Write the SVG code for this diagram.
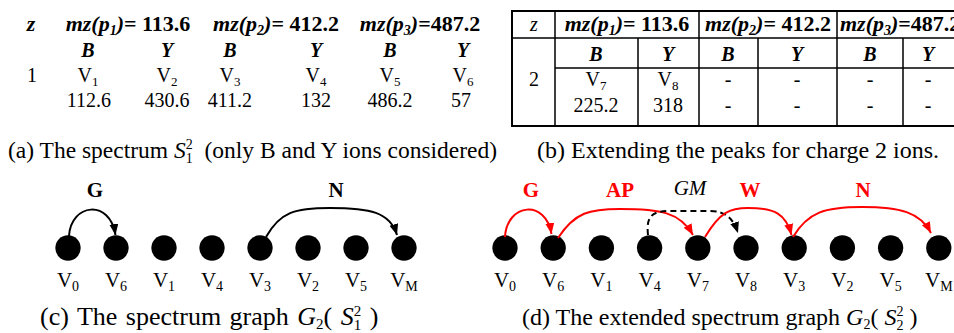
<svg xmlns="http://www.w3.org/2000/svg" width="954" height="333" viewBox="0 0 954 333">
<style>
text { font-family: "Liberation Serif", "Times New Roman", serif; fill: #000; }
.hd { font-size: 22px; font-weight: bold; font-style: italic; text-anchor: middle; }
.hs { font-size: 22px; font-weight: bold; font-style: italic; text-anchor: start; }
.by { font-size: 20px; font-weight: bold; font-style: italic; text-anchor: middle; }
.up { font-style: normal; }
.c { font-size: 20px; text-anchor: middle; }
.cap { font-size: 24px; }
.lbl { font-size: 21px; text-anchor: middle; }
.el { font-size: 21px; font-weight: bold; text-anchor: middle; }
.red { fill: #f00; }
.node { fill: #000; }
.tb { fill: none; stroke: #000; stroke-width: 2; }
.tl { stroke: #000; stroke-width: 1.5; fill: none; }
.e { fill: none; stroke: #000; stroke-width: 2; }
.er { fill: none; stroke: #f00; stroke-width: 2; }
.dash { stroke-dasharray: 6 4; }
</style>
<defs>
<marker id="ab" markerUnits="userSpaceOnUse" markerWidth="12" markerHeight="10" refX="11" refY="4.5" orient="auto"><path d="M0,0 L11,4.5 L0,9 z" fill="#000"/></marker>
<marker id="ar" markerUnits="userSpaceOnUse" markerWidth="12" markerHeight="10" refX="11" refY="4.5" orient="auto"><path d="M0,0 L11,4.5 L0,9 z" fill="#f00"/></marker>
</defs>

<g id="table-a">
<text class="hd" x="31" y="31">z</text>
<text class="hd" x="128" y="31">mz(p<tspan font-size="14" dy="4">1</tspan><tspan dy="-4">)</tspan><tspan class="up">= 113.6</tspan></text>
<text class="hd" x="276" y="31">mz(p<tspan font-size="14" dy="4">2</tspan><tspan dy="-4">)</tspan><tspan class="up">= 412.2</tspan></text>
<text class="hd" x="420" y="31">mz(p<tspan font-size="14" dy="4">3</tspan><tspan dy="-4">)</tspan><tspan class="up">=487.2</tspan></text>
<text class="by" x="88" y="57">B</text><text class="by" x="167" y="57">Y</text>
<text class="by" x="230" y="57">B</text><text class="by" x="316" y="57">Y</text>
<text class="by" x="390" y="57">B</text><text class="by" x="463" y="57">Y</text>
<text class="c" x="32" y="82">1</text>
<text class="c" x="88" y="82">V<tspan font-size="13" dy="4">1</tspan></text>
<text class="c" x="167" y="82">V<tspan font-size="13" dy="4">2</tspan></text>
<text class="c" x="230" y="82">V<tspan font-size="13" dy="4">3</tspan></text>
<text class="c" x="316" y="82">V<tspan font-size="13" dy="4">4</tspan></text>
<text class="c" x="390" y="82">V<tspan font-size="13" dy="4">5</tspan></text>
<text class="c" x="463" y="82">V<tspan font-size="13" dy="4">6</tspan></text>
<text class="c" x="89" y="107">112.6</text><text class="c" x="167" y="107">430.6</text>
<text class="c" x="230" y="107">411.2</text><text class="c" x="316" y="107">132</text>
<text class="c" x="390" y="107">486.2</text><text class="c" x="461" y="107">57</text>
</g>

<g id="table-b">
<rect class="tb" x="512" y="11" width="450" height="115"/>
<path class="tl" d="M512,38 H962 M555,68 H962 M555,11 V126 M638,38 V126 M699,11 V126 M758,38 V126 M837,11 V126 M903,38 V126"/>
<text class="c" x="534" y="31" font-style="italic">z</text>
<text class="hd" x="627" y="31">mz(p<tspan font-size="14" dy="4">1</tspan><tspan dy="-4">)</tspan><tspan class="up">= 113.6</tspan></text>
<text class="hd" x="768" y="31">mz(p<tspan font-size="14" dy="4">2</tspan><tspan dy="-4">)</tspan><tspan class="up">= 412.2</tspan></text>
<text class="hs" x="840" y="31">mz(p<tspan font-size="14" dy="4">3</tspan><tspan dy="-4">)</tspan><tspan class="up">=487.2</tspan></text>
<text class="by" x="596" y="61">B</text><text class="by" x="668" y="61">Y</text>
<text class="by" x="728" y="61">B</text><text class="by" x="797" y="61">Y</text>
<text class="by" x="870" y="61">B</text><text class="by" x="928" y="61">Y</text>
<text class="c" x="534" y="86">2</text>
<text class="c" x="596" y="86">V<tspan font-size="13" dy="4">7</tspan></text>
<text class="c" x="668" y="86">V<tspan font-size="13" dy="4">8</tspan></text>
<text class="c" x="596" y="112">225.2</text><text class="c" x="668" y="112">318</text>
<text class="c" x="728" y="86">-</text><text class="c" x="797" y="86">-</text><text class="c" x="870" y="86">-</text><text class="c" x="928" y="86">-</text>
<text class="c" x="728" y="112">-</text><text class="c" x="797" y="112">-</text><text class="c" x="870" y="112">-</text><text class="c" x="928" y="112">-</text>
</g>

<g id="captions">
<text class="cap" x="8" y="158" style="font-size:23.5px">(a) The spectrum <tspan font-style="italic">S</tspan><tspan font-size="14" dy="-9">2</tspan><tspan font-size="14" dx="-7" dy="14">1</tspan><tspan dy="-5">&#160; (only B and Y ions considered)</tspan></text>
<text class="cap" x="537" y="158">(b) Extending the peaks for charge 2 ions.</text>
<text class="cap" x="40" y="325" style="font-size:26px" word-spacing="2">(c) The spectrum graph <tspan font-style="italic">G</tspan><tspan font-size="15" dy="4">2</tspan><tspan dy="-4">(&#160;</tspan><tspan font-style="italic">S</tspan><tspan font-size="15" dy="-9">2</tspan><tspan font-size="15" dx="-7.5" dy="14">1</tspan><tspan dy="-5">&#160;)</tspan></text>
<text class="cap" x="522" y="325">(d) The extended spectrum graph <tspan font-style="italic">G</tspan><tspan font-size="14" dy="4">2</tspan><tspan dy="-4">(&#160;</tspan><tspan font-style="italic">S</tspan><tspan font-size="14" dy="-9">2</tspan><tspan font-size="14" dx="-7" dy="14">2</tspan><tspan dy="-5">&#160;)</tspan></text>
</g>

<g id="graph-c">
<g id="c-v0"><circle class="node" cx="68" cy="248" r="12.7"/><text class="lbl" x="68" y="287">V<tspan font-size="14" dy="4">0</tspan></text></g>
<g id="c-v6"><circle class="node" cx="116" cy="248" r="12.7"/><text class="lbl" x="116" y="287">V<tspan font-size="14" dy="4">6</tspan></text></g>
<g id="c-v1"><circle class="node" cx="164" cy="248" r="12.7"/><text class="lbl" x="164" y="287">V<tspan font-size="14" dy="4">1</tspan></text></g>
<g id="c-v4"><circle class="node" cx="212" cy="248" r="12.7"/><text class="lbl" x="212" y="287">V<tspan font-size="14" dy="4">4</tspan></text></g>
<g id="c-v3"><circle class="node" cx="260" cy="248" r="12.7"/><text class="lbl" x="260" y="287">V<tspan font-size="14" dy="4">3</tspan></text></g>
<g id="c-v2"><circle class="node" cx="308" cy="248" r="12.7"/><text class="lbl" x="308" y="287">V<tspan font-size="14" dy="4">2</tspan></text></g>
<g id="c-v5"><circle class="node" cx="356" cy="248" r="12.7"/><text class="lbl" x="356" y="287">V<tspan font-size="14" dy="4">5</tspan></text></g>
<g id="c-vm"><circle class="node" cx="404" cy="248" r="12.7"/><text class="lbl" x="404" y="287">V<tspan font-size="14" dy="4">M</tspan></text></g>
</g>

<g id="graph-d">
<g id="d-v0"><circle class="node" cx="505" cy="248" r="12.7"/><text class="lbl" x="505" y="287">V<tspan font-size="14" dy="4">0</tspan></text></g>
<g id="d-v6"><circle class="node" cx="553.2" cy="248" r="12.7"/><text class="lbl" x="553.2" y="287">V<tspan font-size="14" dy="4">6</tspan></text></g>
<g id="d-v1"><circle class="node" cx="601.4" cy="248" r="12.7"/><text class="lbl" x="601.4" y="287">V<tspan font-size="14" dy="4">1</tspan></text></g>
<g id="d-v4"><circle class="node" cx="649.6" cy="248" r="12.7"/><text class="lbl" x="649.6" y="287">V<tspan font-size="14" dy="4">4</tspan></text></g>
<g id="d-v7"><circle class="node" cx="697.8" cy="248" r="12.7"/><text class="lbl" x="697.8" y="287">V<tspan font-size="14" dy="4">7</tspan></text></g>
<g id="d-v8"><circle class="node" cx="746" cy="248" r="12.7"/><text class="lbl" x="746" y="287">V<tspan font-size="14" dy="4">8</tspan></text></g>
<g id="d-v3"><circle class="node" cx="794.2" cy="248" r="12.7"/><text class="lbl" x="794.2" y="287">V<tspan font-size="14" dy="4">3</tspan></text></g>
<g id="d-v2"><circle class="node" cx="842.4" cy="248" r="12.7"/><text class="lbl" x="842.4" y="287">V<tspan font-size="14" dy="4">2</tspan></text></g>
<g id="d-v5"><circle class="node" cx="890.6" cy="248" r="12.7"/><text class="lbl" x="890.6" y="287">V<tspan font-size="14" dy="4">5</tspan></text></g>
<g id="d-vm"><circle class="node" cx="938.8" cy="248" r="12.7"/><text class="lbl" x="938.8" y="287">V<tspan font-size="14" dy="4">M</tspan></text></g>
</g>

<g id="connectors">
<path class="e" marker-end="url(#ab)" d="M69,236 C71,203 110,199 115.5,235"/>
<path class="e" marker-end="url(#ab)" d="M266,237 C280,212 295,208 330,208 C370,208 390,212 397,235"/>
<path class="er" marker-end="url(#ar)" d="M505,237 C507,203 546,199 551.5,234"/>
<path class="er" marker-end="url(#ar)" d="M558,238 C575,212 590,209 620,209 C660,209 680,212 693,235"/>
<path class="e dash" marker-end="url(#ab)" d="M648,235 C646,216 652,211 670,211 L710,211 C725,211 733,218 738,233"/>
<path class="er" marker-end="url(#ar)" d="M705,237 C720,212 730,208 748,208 C775,208 786,214 791.5,235"/>
<path class="er" marker-end="url(#ar)" d="M793,237 C808,212 825,207 862,207 C900,207 920,212 931,233"/>
</g>

<g id="edge-labels">
<text class="el" x="95" y="197">G</text>
<text class="el" x="336" y="197">N</text>
<text class="el red" x="531" y="197">G</text>
<text class="el red" x="620" y="197">AP</text>
<text class="lbl" x="690" y="195" font-style="italic">GM</text>
<text class="el red" x="750" y="197">W</text>
<text class="el red" x="863" y="197">N</text>
</g>
</svg>
